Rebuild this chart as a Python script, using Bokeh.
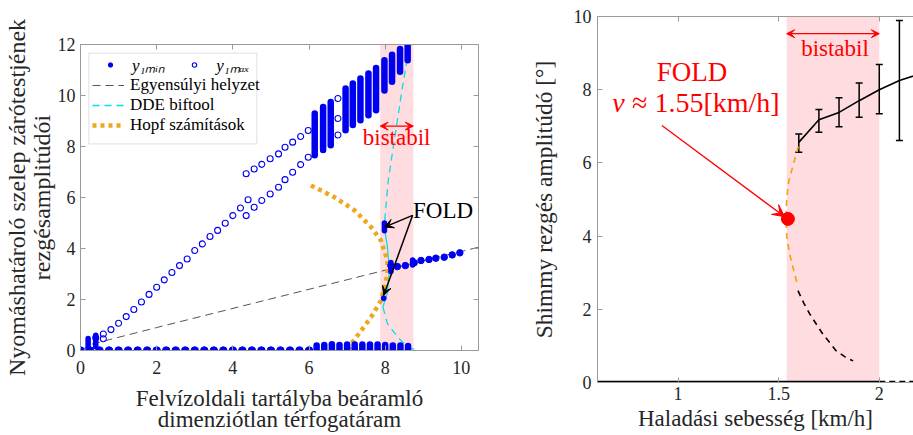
from bokeh.plotting import figure
from bokeh.models import (Range1d, LinearAxis, BoxAnnotation, Arrow, VeeHead, Label,
                          Legend, LegendItem, FixedTicker, Whisker, TeeHead, ColumnDataSource)
from bokeh.layouts import row, column
from bokeh.embed import file_html
from bokeh.resources import INLINE

FONT = '"Liberation Serif"'

# ---------------- left panel data ----------------
# y1min on the zero branch
zero_x = [0.0, 0.25, 0.5, 0.75, 1.0, 1.25, 1.5, 1.75, 2.0, 2.25, 2.5, 2.75, 3.0, 3.25,
          3.5, 3.75, 4.0, 4.25, 4.5, 4.75, 5.0, 5.25, 5.5, 5.75, 6.0]
zero_y = [0.0] * len(zero_x)
zcol_x = [6.2, 6.4, 6.6, 6.8, 7.0, 7.2, 7.4, 7.6, 7.8, 8.0, 8.2, 8.4, 8.6]
zcol_lo = [0.0] * len(zcol_x)
zcol_hi = [0.2, 0.22, 0.25, 0.22, 0.24, 0.24, 0.24, 0.24, 0.24, 0.22, 0.2, 0.2, 0.18]
# y1min on the upper equilibrium branch after the fold
eqb_x = [8.15, 8.32, 8.53, 8.76, 8.94, 9.15, 9.33, 9.55, 9.76, 9.96]
eqb_y = [3.33, 3.29, 3.33, 3.44, 3.53, 3.57, 3.62, 3.66, 3.75, 3.83]
fcol_x = [7.98, 8.15, 8.72]
fcol_lo = [4.7, 3.1, 3.35]
fcol_hi = [5.0, 3.45, 3.55]
fdot_x = [7.96]
fdot_y = [2.05]
# y1max circles
max_x = [0.6, 0.4, 0.6, 0.8, 1.0, 1.2, 1.4, 1.6, 1.8, 2.0, 2.2, 2.4, 2.6, 2.8, 3.0, 3.2,
         3.4, 3.6, 3.8, 4.0, 4.2, 4.35, 4.4, 4.35,
         4.56, 4.76, 4.98, 5.2, 5.37, 5.57, 5.78, 5.98,
         4.56, 4.76, 4.98, 5.2, 5.37, 5.57, 5.78, 5.98,
         6.76, 6.76, 6.76]
max_y = [0.46, 0.5, 0.65, 0.82, 1.07, 1.33, 1.61, 1.9, 2.2, 2.48, 2.77, 3.06, 3.33, 3.59,
         3.92, 4.18, 4.47, 4.71, 4.99, 5.29, 5.59, 5.29, 5.91, 6.93,
         5.62, 5.88, 6.14, 6.4, 6.7, 6.99, 7.29, 7.58,
         7.12, 7.3, 7.52, 7.71, 7.97, 8.17, 8.39, 8.63,
         9.88, 9.1, 8.45]
ocol_x = [0.2, 0.4]
ocol_lo = [0.0, 0.15]
ocol_hi = [0.47, 0.6]
col_x = [6.15, 6.37, 6.57, 6.96, 7.15, 7.35, 7.56, 7.76, 7.98, 8.18, 8.39, 8.59]
col_lo = [7.66, 7.86, 8.05, 8.64, 8.84, 9.03, 9.23, 9.42, 10.2, 10.54, 10.93, 11.38]
col_hi = [9.29, 9.55, 9.75, 10.27, 10.47, 10.67, 10.86, 11.08, 11.38, 11.6, 11.82, 12.04]
# equilibrium
eq_x = [0.0, 0.3, 2.0, 8.0, 10.45]
eq_y = [0.0, 0.25, 0.9, 3.15, 4.05]
# DDE biftool branch
dde_top_x = [8.63, 8.45, 8.28, 8.08, 7.98]
dde_top_y = [11.9, 10.3, 8.63, 6.67, 4.97]
dde_mid_x = [7.98, 8.06, 8.11, 8.05, 7.94]
dde_mid_y = [4.8, 4.05, 3.14, 2.22, 1.7]
dde_bot_x = [7.94, 8.06, 8.33, 8.59, 8.85]
dde_bot_y = [1.7, 1.05, 0.52, 0.13, 0.0]
# Hopf
hopf_x = [6.05, 6.67, 7.2, 7.63, 7.89, 8.06, 8.06, 7.98, 7.89, 7.63, 7.37, 7.11, 7.07]
hopf_y = [6.47, 6.01, 5.49, 4.84, 4.31, 3.53, 3.0, 2.48, 1.96, 1.31, 0.78, 0.26, 0.06]
bist1 = (7.87, 8.74)

# ---------------- right panel data ----------------
err_x = [1.6, 1.7, 1.8, 1.9, 2.0, 2.1]
err_lo = [6.29, 6.84, 6.99, 7.25, 7.34, 6.61]
err_hi = [6.79, 7.46, 7.78, 8.18, 8.69, 9.89]
amp_x = [1.6, 1.7, 1.8, 1.9, 2.0, 2.1, 2.2]
amp_y = [6.56, 7.18, 7.38, 7.7, 8.0, 8.25, 8.43]
uo_x = [1.598, 1.575, 1.55, 1.54, 1.537, 1.54, 1.555, 1.578, 1.59]
uo_y = [6.45, 6.0, 5.5, 5.0, 4.5, 4.0, 3.5, 3.0, 2.75]
ub_x = [1.596, 1.625, 1.655, 1.69, 1.72, 1.755, 1.785, 1.83, 1.87]
ub_y = [2.51, 2.17, 1.87, 1.57, 1.32, 1.08, 0.87, 0.7, 0.59]
z_solid_x = [0.6, 2.0]
z_dash_x = [2.0, 2.2]
z_y = [0.0, 0.0]
fold_v = [1.546]
fold_a = [4.47]
bist2 = (1.54, 2.0)

BLUE = "#0000F0"
AX = "#9a9a9a"
TXT = "#262626"


def style_axis(ax, ticks, size="18px", labels=True):
    ax.ticker = FixedTicker(ticks=ticks)
    ax.axis_line_color = AX
    ax.major_tick_line_color = AX
    ax.major_tick_in = 5
    ax.major_tick_out = 0
    ax.minor_tick_line_color = None
    ax.major_label_text_font = FONT
    ax.major_label_text_font_size = size if labels else "0px"
    ax.major_label_text_color = TXT
    ax.axis_label_text_font = FONT
    ax.axis_label_text_font_style = "normal"
    ax.axis_label_text_color = TXT


# ---------------- left figure ----------------
p1 = figure(width=486, height=435, x_range=Range1d(0, 10.45), y_range=Range1d(0, 12),
            output_backend="svg", toolbar_location=None,
            min_border_left=78, min_border_right=8, min_border_top=44, min_border_bottom=85)
p1.outline_line_color = None
p1.grid.visible = False
p1.background_fill_color = "white"

style_axis(p1.below[0], [0, 2, 4, 6, 8, 10])
style_axis(p1.left[0], [0, 2, 4, 6, 8, 10, 12])
p1.below[0].major_label_standoff = 10
p1.left[0].major_label_standoff = 5
p1.below[0].axis_label = "Felvízoldali tartályba beáramló\ndimenziótlan térfogatáram"
p1.below[0].axis_label_text_font_size = "23px"
p1.below[0].axis_label_text_line_height = 0.87
p1.below[0].axis_label_standoff = 9
p1.left[0].axis_label = "Nyomáshatároló szelep zárótestjének\nrezgésamplitúdói"
p1.left[0].axis_label_text_font_size = "24px"
p1.left[0].axis_label_text_line_height = 0.95
p1.left[0].axis_label_standoff = 0
top1 = LinearAxis()
style_axis(top1, [0, 2, 4, 6, 8, 10], labels=False)
p1.add_layout(top1, "above")
right1 = LinearAxis()
style_axis(right1, [0, 2, 4, 6, 8, 10, 12], labels=False)
p1.add_layout(right1, "right")

p1.add_layout(BoxAnnotation(left=bist1[0], right=bist1[1], fill_color="#FFDCDF",
                            fill_alpha=1, line_alpha=0, level="underlay"))

r_eq = p1.line(eq_x, eq_y, line_color="#555555", line_width=1, line_dash="8 5")
r_dde = p1.line(dde_top_x, dde_top_y, line_color="#00E0E8", line_width=1.3, line_dash="7 5")
p1.line(dde_mid_x, dde_mid_y, line_color="#00E0E8", line_width=1.3)
p1.line(dde_bot_x, dde_bot_y, line_color="#00E0E8", line_width=1.3, line_dash="7 5")
r_hopf = p1.line(hopf_x, hopf_y, line_color="#EDA820", line_width=4.5, line_dash="4 4")

p1.scatter(zero_x, zero_y, marker="circle", size=7.5, color=BLUE)
p1.segment(x0=zcol_x, y0=zcol_lo, x1=zcol_x, y1=zcol_hi, line_width=6.5,
           line_cap="round", line_color=BLUE)
p1.segment(x0=col_x, y0=col_lo, x1=col_x, y1=col_hi, line_width=6.5,
           line_cap="round", line_color=BLUE)
p1.segment(x0=ocol_x, y0=ocol_lo, x1=ocol_x, y1=ocol_hi, line_width=5.5,
           line_cap="round", line_color=BLUE)
p1.segment(x0=fcol_x, y0=fcol_lo, x1=fcol_x, y1=fcol_hi, line_width=5.5,
           line_cap="round", line_color=BLUE)
p1.scatter(eqb_x, eqb_y, marker="circle", size=6.5, color=BLUE)
r_min = p1.scatter(fdot_x, fdot_y, marker="circle", size=5, color=BLUE)
r_max = p1.scatter(max_x, max_y, marker="circle", size=6, fill_color=None,
                   line_color=BLUE, line_width=1.1)

# annotations
p1.add_layout(Arrow(x_start=bist1[0], y_start=8.8, x_end=bist1[1], y_end=8.8,
                    start=VeeHead(size=8, fill_color="red", line_color="red"),
                    end=VeeHead(size=8, fill_color="red", line_color="red"),
                    line_color="red", line_width=1.3))
p1.add_layout(Label(x=8.3, y=8.35, text="bistabil", text_align="center", text_baseline="middle",
                    text_color="red", text_font=FONT, text_font_size="23px"))
p1.add_layout(Label(x=8.73, y=5.5, text="FOLD", text_align="left", text_baseline="middle",
                    text_color="black", text_font=FONT, text_font_size="23px"))
for xe, ye in [(7.98, 4.84), (7.96, 2.16)]:
    p1.add_layout(Arrow(x_start=8.72, y_start=5.3, x_end=xe, y_end=ye,
                        end=VeeHead(size=9, fill_color="black", line_color="black"),
                        line_color="black", line_width=1.5))

# legend
p1.add_layout(BoxAnnotation(left=0.22, right=4.63, bottom=8.1, top=11.66, fill_color="white",
                            fill_alpha=1, line_color="#999999", line_width=1))
leg_common = dict(border_line_alpha=0, background_fill_alpha=0, label_text_font=FONT,
                  label_text_font_size="17px", label_text_color="black", padding=0, margin=0,
                  label_height=20)
leg1 = Legend(items=[LegendItem(label="y\u2081\u2098\u1d62\u2099", renderers=[r_min]),
                     LegendItem(label="y\u2081\u2098\u2090\u2093", renderers=[r_max])],
              location=(15, 274), orientation="horizontal", glyph_width=30, glyph_height=11,
              label_standoff=7, spacing=14, label_text_font_style="italic", **leg_common)
leg2 = Legend(items=[LegendItem(label="Egyensúlyi helyzet", renderers=[r_eq]),
                     LegendItem(label="DDE biftool", renderers=[r_dde]),
                     LegendItem(label="Hopf számítások", renderers=[r_hopf])],
              location=(12, 215), orientation="vertical", glyph_width=32, glyph_height=20,
              label_standoff=6, spacing=0, **leg_common)
p1.add_layout(leg1)
p1.add_layout(leg2)

# ---------------- right figure ----------------
p2 = figure(width=427, height=435, x_range=Range1d(0.6, 2.17), y_range=Range1d(0, 10),
            output_backend="svg", toolbar_location=None,
            min_border_left=111, min_border_right=0, min_border_top=16, min_border_bottom=53)
p2.outline_line_color = None
p2.grid.visible = False
style_axis(p2.below[0], [1, 1.5, 2])
style_axis(p2.left[0], [0, 2, 4, 6, 8, 10])
p2.below[0].major_label_standoff = 4
p2.left[0].major_label_standoff = 6
p2.below[0].axis_label = "Haladási sebesség [km/h]"
p2.below[0].axis_label_text_font_size = "23px"
p2.below[0].axis_label_standoff = 3
p2.left[0].axis_label = "Shimmy rezgés amplitúdó [°]"
p2.left[0].axis_label_text_font_size = "23.5px"
p2.left[0].axis_label_standoff = 14
top2 = LinearAxis()
style_axis(top2, [1, 1.5, 2], labels=False)
p2.add_layout(top2, "above")

p2.add_layout(BoxAnnotation(left=bist2[0], right=bist2[1], fill_color="#FFDCDF",
                            fill_alpha=1, line_alpha=0, level="underlay"))
p2.line(z_solid_x, z_y, line_color="black", line_width=3.5)
p2.line(z_dash_x, z_y, line_color="black", line_width=3.5, line_dash="6 4")
p2.line(uo_x, uo_y, line_color="#F5A300", line_width=1.6, line_dash="6 5")
p2.line(ub_x, ub_y, line_color="black", line_width=1.6, line_dash="6 5")
p2.line(amp_x, amp_y, line_color="black", line_width=1.6)
src = ColumnDataSource(dict(x=err_x, lo=err_lo, hi=err_hi))
p2.add_layout(Whisker(base="x", lower="lo", upper="hi", source=src, dimension="height",
                      line_color="black", line_width=1.5,
                      upper_head=TeeHead(size=7, line_color="black", line_width=1.5),
                      lower_head=TeeHead(size=7, line_color="black", line_width=1.5)))
p2.add_layout(Arrow(x_start=0.92, y_start=7.02, x_end=1.53, y_end=4.53,
                    end=VeeHead(size=12, fill_color="red", line_color="red"),
                    line_color="red", line_width=1.3))
p2.scatter(fold_v, fold_a, marker="circle", size=13, color="red")
p2.add_layout(Arrow(x_start=bist2[0], y_start=9.53, x_end=bist2[1], y_end=9.53,
                    start=VeeHead(size=8, fill_color="red", line_color="red"),
                    end=VeeHead(size=8, fill_color="red", line_color="red"),
                    line_color="red", line_width=1.3))
p2.add_layout(Label(x=1.78, y=9.12, text="bistabil", text_align="center", text_baseline="middle",
                    text_color="red", text_font=FONT, text_font_size="23px"))
p2.add_layout(Label(x=1.07, y=8.48, text="FOLD", text_align="center", text_baseline="middle",
                    text_color="red", text_font=FONT, text_font_size="27px"))
p2.add_layout(Label(x=0.735, y=7.66, text="v", text_align="right", text_baseline="middle",
                    text_color="red", text_font=FONT, text_font_style="italic",
                    text_font_size="28px"))
p2.add_layout(Label(x=0.772, y=7.66, text="\u2248 1.55[km/h]", text_align="left",
                    text_baseline="middle", text_color="red", text_font=FONT,
                    text_font_size="28px"))

layout = row(column(p1), column(p2))
open("out.html", "w").write(file_html(layout, INLINE))
